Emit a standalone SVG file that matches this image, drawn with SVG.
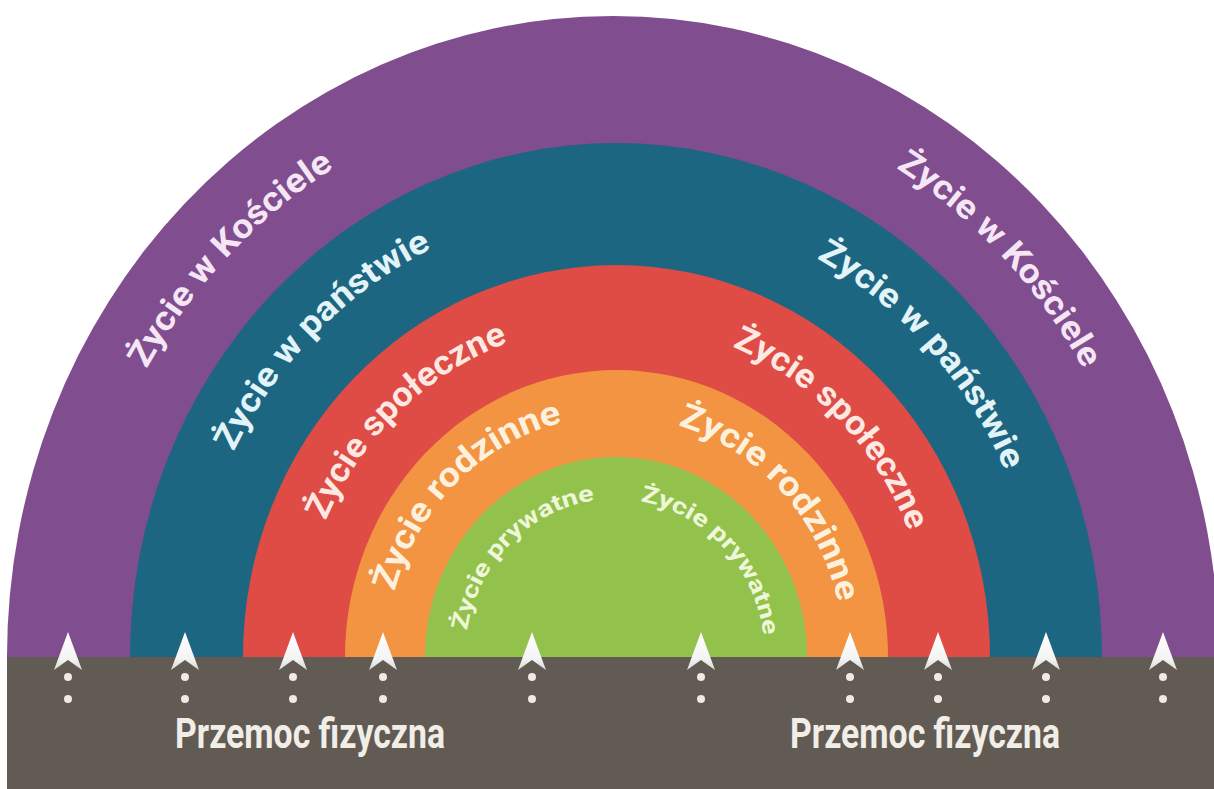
<svg xmlns="http://www.w3.org/2000/svg" xmlns:xlink="http://www.w3.org/1999/xlink" width="1214" height="789" viewBox="0 0 1214 789">
<style>
.lbl{font-family:"Liberation Sans Narrow","Roboto","Liberation Sans",sans-serif;font-weight:bold;font-size:34px;text-anchor:middle}
.sm{font-size:23px}
.bottom{font-family:"Liberation Sans Narrow","Roboto","Liberation Sans",sans-serif;font-weight:bold;font-size:42px;fill:#f1eee8}
.dot{fill:#efebe4}
</style>
<defs>
<linearGradient id="ag" x1="0" y1="0" x2="0" y2="1">
<stop offset="0" stop-color="#ffffff"/>
<stop offset="0.7" stop-color="#f4f4f4"/>
<stop offset="1" stop-color="#d9d9d9"/>
</linearGradient>
<path id="pPurple" d="M73,657 A542,572 0 0 1 1157,657"/>
<path id="pTeal" d="M187,657 A428,452 0 0 1 1043,657"/>
<path id="pRed" d="M298,657 A317,334 0 0 1 932,657"/>
<path id="pOrange" d="M386,657 A229,241 0 0 1 844,657"/>
<path id="pGreen" d="M465,657 A150,158 0 0 1 765,657"/>
<path id="arrow" d="M0,-25 L14,13 L0,3 L-14,13 Z"/>
</defs>
<rect width="1214" height="789" fill="#ffffff"/>
<g id="ring-purple">
<path d="M7,657 A606,641 0 0 1 1219,657 Z" fill="#804d8e"/>
<text class="lbl" fill="#f5e6f6"><textPath href="#pPurple" startOffset="25.1%" textLength="278" lengthAdjust="spacingAndGlyphs">Życie w Kościele</textPath></text>
<text class="lbl" fill="#f5e6f6"><textPath href="#pPurple" startOffset="74.9%" textLength="278" lengthAdjust="spacingAndGlyphs">Życie w Kościele</textPath></text>
</g>
<g id="ring-teal">
<path d="M130,657 A486,514 0 0 1 1102,657 Z" fill="#1d6682"/>
<text class="lbl" fill="#e2f4f8"><textPath href="#pTeal" startOffset="25.8%" textLength="289" lengthAdjust="spacingAndGlyphs">Życie w państwie</textPath></text>
<text class="lbl" fill="#e2f4f8"><textPath href="#pTeal" startOffset="75.7%" textLength="289" lengthAdjust="spacingAndGlyphs">Życie w państwie</textPath></text>
</g>
<g id="ring-red">
<path d="M243,657 A373.5,392 0 0 1 990,657 Z" fill="#df4b45"/>
<text class="lbl" fill="#fde8e2"><textPath href="#pRed" startOffset="26.5%" textLength="262" lengthAdjust="spacingAndGlyphs">Życie społeczne</textPath></text>
<text class="lbl" fill="#fde8e2"><textPath href="#pRed" startOffset="74.6%" textLength="262" lengthAdjust="spacingAndGlyphs">Życie społeczne</textPath></text>
</g>
<g id="ring-orange">
<path d="M345,657 A271.5,287 0 0 1 888,657 Z" fill="#f29441"/>
<text class="lbl" fill="#fdf1de"><textPath href="#pOrange" startOffset="25.9%" textLength="250" lengthAdjust="spacingAndGlyphs">Życie rodzinne</textPath></text>
<text class="lbl" fill="#fdf1de"><textPath href="#pOrange" startOffset="75.6%" textLength="250" lengthAdjust="spacingAndGlyphs">Życie rodzinne</textPath></text>
</g>
<g id="ring-green">
<path d="M425,657 A191,200 0 0 1 807,657 Z" fill="#93c24c"/>
<text class="lbl sm" fill="#eef7d9"><textPath href="#pGreen" startOffset="25.6%" textLength="195" lengthAdjust="spacingAndGlyphs">Życie prywatne</textPath></text>
<text class="lbl sm" fill="#eef7d9"><textPath href="#pGreen" startOffset="75.4%" textLength="195" lengthAdjust="spacingAndGlyphs">Życie prywatne</textPath></text>
</g>
<g id="ground">
<rect x="7" y="657" width="1207" height="132" fill="#625b54"/>
<text class="bottom" x="175" y="748" textLength="270" lengthAdjust="spacingAndGlyphs">Przemoc fizyczna</text>
<text class="bottom" x="790" y="748" textLength="270" lengthAdjust="spacingAndGlyphs">Przemoc fizyczna</text>
</g>
<g id="connectors">
<g transform="translate(68,657)"><use href="#arrow" fill="url(#ag)"/><circle class="dot" cx="0" cy="20" r="4"/><circle class="dot" cx="0" cy="42" r="4"/></g>
<g transform="translate(185,657)"><use href="#arrow" fill="url(#ag)"/><circle class="dot" cx="0" cy="20" r="4"/><circle class="dot" cx="0" cy="42" r="4"/></g>
<g transform="translate(293,657)"><use href="#arrow" fill="url(#ag)"/><circle class="dot" cx="0" cy="20" r="4"/><circle class="dot" cx="0" cy="42" r="4"/></g>
<g transform="translate(383,657)"><use href="#arrow" fill="url(#ag)"/><circle class="dot" cx="0" cy="20" r="4"/><circle class="dot" cx="0" cy="42" r="4"/></g>
<g transform="translate(532,657)"><use href="#arrow" fill="url(#ag)"/><circle class="dot" cx="0" cy="20" r="4"/><circle class="dot" cx="0" cy="42" r="4"/></g>
<g transform="translate(701,657)"><use href="#arrow" fill="url(#ag)"/><circle class="dot" cx="0" cy="20" r="4"/><circle class="dot" cx="0" cy="42" r="4"/></g>
<g transform="translate(850,657)"><use href="#arrow" fill="url(#ag)"/><circle class="dot" cx="0" cy="20" r="4"/><circle class="dot" cx="0" cy="42" r="4"/></g>
<g transform="translate(938,657)"><use href="#arrow" fill="url(#ag)"/><circle class="dot" cx="0" cy="20" r="4"/><circle class="dot" cx="0" cy="42" r="4"/></g>
<g transform="translate(1046,657)"><use href="#arrow" fill="url(#ag)"/><circle class="dot" cx="0" cy="20" r="4"/><circle class="dot" cx="0" cy="42" r="4"/></g>
<g transform="translate(1163,657)"><use href="#arrow" fill="url(#ag)"/><circle class="dot" cx="0" cy="20" r="4"/><circle class="dot" cx="0" cy="42" r="4"/></g>
</g>
</svg>
